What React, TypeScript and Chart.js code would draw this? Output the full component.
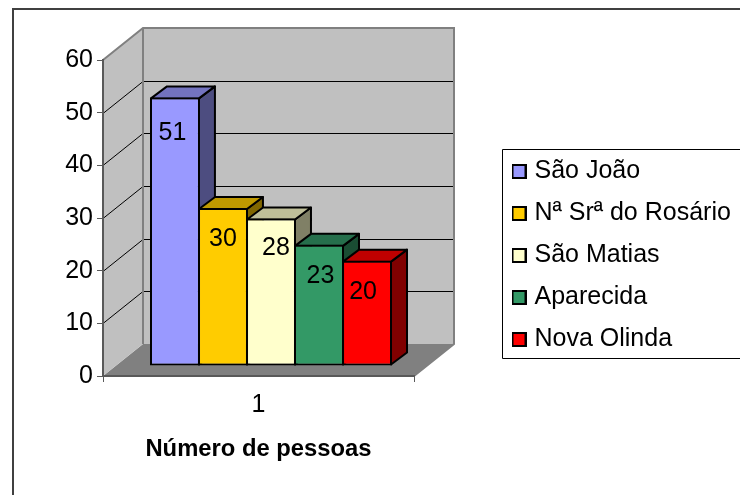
import React, { useEffect, useRef } from "react";
import { Chart, registerables } from "chart.js";

Chart.register(...registerables);

const categories = ["1"];
const seriesNames = ["São João", "Nª Srª do Rosário", "São Matias", "Aparecida", "Nova Olinda"];
const seriesValues = [51, 30, 28, 23, 20];
const frontColors = ["#9999FF", "#FFCC00", "#FFFFCC", "#339966", "#FF0000"];
const topColors = ["#7373BF", "#BF9900", "#BFBF99", "#266F4C", "#BF0000"];
const sideColors = ["#4D4D80", "#806600", "#808066", "#1A4D33", "#800000"];
const labelShifts = [-2.5, 0, 5, 1.5, -4];
const labelDrops = [36, 31, 29.5, 31, 31];
const yTicks = [0, 10, 20, 30, 40, 50, 60];

const FONT = "'Liberation Sans', Arial, sans-serif";
const WALL_DX = 40;
const WALL_DY = -32;
const BAR_DX = 16;
const BAR_DY = -12;
const PLANE_DX = 12.5;
const PLANE_DY = -10;

const makeSwatch = (fill: string) => {
  const c = document.createElement("canvas");
  c.width = 15;
  c.height = 15;
  const g = c.getContext("2d")!;
  g.fillStyle = "#000";
  g.fillRect(0, 0, 15, 15);
  g.fillStyle = fill;
  g.fillRect(2, 2, 11, 11);
  return c;
};

const poly = (ctx: CanvasRenderingContext2D, pts: number[][], fill: string, stroke?: string, lw = 1) => {
  ctx.beginPath();
  pts.forEach(([x, y], i) => (i ? ctx.lineTo(x, y) : ctx.moveTo(x, y)));
  ctx.closePath();
  ctx.fillStyle = fill;
  ctx.fill();
  if (stroke) {
    ctx.strokeStyle = stroke;
    ctx.lineWidth = lw;
    ctx.lineJoin = "round";
    ctx.stroke();
  }
};

const scenePlugin = {
  id: "scene3d",
  beforeDraw(chart: any) {
    const { ctx, chartArea: a, scales } = chart;
    const y = scales.y;
    ctx.save();
    // frame
    ctx.strokeStyle = "#404040";
    ctx.lineWidth = 2;
    ctx.beginPath();
    ctx.moveTo(13, 496);
    ctx.lineTo(13, 9);
    ctx.lineTo(741, 9);
    ctx.stroke();
    // legend frame
    ctx.strokeStyle = "#000";
    ctx.lineWidth = 1;
    ctx.beginPath();
    ctx.moveTo(741, 149.5);
    ctx.lineTo(502.5, 149.5);
    ctx.lineTo(502.5, 358.5);
    ctx.lineTo(741, 358.5);
    ctx.stroke();
    // walls and floor
    const y0 = y.getPixelForValue(0);
    const yTop = y.getPixelForValue(60);
    poly(ctx, [[a.left, y0], [a.left + WALL_DX, y0 + WALL_DY], [a.right + WALL_DX, y0 + WALL_DY], [a.right, y0]], "#808080");
    poly(ctx, [[a.left, y0], [a.left, yTop], [a.left + WALL_DX, yTop + WALL_DY], [a.left + WALL_DX, y0 + WALL_DY]], "#C0C0C0");
    ctx.fillStyle = "#C0C0C0";
    ctx.fillRect(a.left + WALL_DX, yTop + WALL_DY, a.right - a.left, y0 - yTop);
    // grid
    ctx.strokeStyle = "#000";
    ctx.lineWidth = 1;
    yTicks.slice(1, -1).forEach((t) => {
      const py = Math.round(y.getPixelForValue(t)) + 0.5;
      ctx.beginPath();
      ctx.moveTo(a.left, py);
      ctx.lineTo(a.left + WALL_DX, py + WALL_DY);
      ctx.lineTo(a.right + WALL_DX, py + WALL_DY);
      ctx.stroke();
    });
    // wall outline
    ctx.strokeStyle = "#808080";
    ctx.lineWidth = 2;
    ctx.beginPath();
    ctx.moveTo(a.left, yTop);
    ctx.lineTo(a.left + WALL_DX, yTop + WALL_DY);
    ctx.lineTo(a.right + WALL_DX, yTop + WALL_DY);
    ctx.lineTo(a.right + WALL_DX, y0 + WALL_DY);
    ctx.lineTo(a.right, y0);
    ctx.moveTo(a.left + WALL_DX, yTop + WALL_DY);
    ctx.lineTo(a.left + WALL_DX, y0 + WALL_DY);
    ctx.stroke();
    ctx.restore();
  },
  // The bars are painted left to right so each front face covers its left neighbour's side.
  beforeDatasetsDraw(chart: any) {
    const { ctx } = chart;
    ctx.save();
    ctx.translate(PLANE_DX, PLANE_DY);
    chart.data.datasets.forEach((_: any, i: number) => {
      const meta = chart.getDatasetMeta(i);
      const bar = meta.data[0];
      const l = bar.x - bar.width / 2 + 1;
      const r = bar.x + bar.width / 2 - 1;
      const t = bar.y + 1;
      const b = bar.base - 1;
      poly(ctx, [[r, t], [r + BAR_DX, t + BAR_DY], [r + BAR_DX, b + BAR_DY], [r, b]], sideColors[i], "#000", 2);
      poly(ctx, [[l, t], [l + BAR_DX, t + BAR_DY], [r + BAR_DX, t + BAR_DY], [r, t]], topColors[i], "#000", 2);
      meta.controller.draw();
    });
    ctx.restore();
    ctx.save();
    ctx.fillStyle = "#000";
    ctx.font = `25px ${FONT}`;
    ctx.textAlign = "center";
    ctx.textBaseline = "middle";
    chart.data.datasets.forEach((ds: any, i: number) => {
      const bar = chart.getDatasetMeta(i).data[0];
      ctx.fillText(String(ds.data[0]), bar.x + PLANE_DX + labelShifts[i], bar.y + PLANE_DY + labelDrops[i]);
    });
    ctx.restore();
    return false;
  },
  afterLayout(chart: any) {
    const lg = chart.legend;
    if (!lg) return;
    lg.left = 499;
    lg.top = 142;
    lg.width = 241;
    lg.height = 216;
    lg.right = 740;
    lg.bottom = 600;
  },
};

export default function App() {
  const ref = useRef<HTMLCanvasElement>(null);
  useEffect(() => {
    document.body.style.margin = "0";
    const chart = new Chart(ref.current!, {
      type: "bar",
      data: {
        labels: categories,
        datasets: seriesNames.map((name, i) => ({
          label: name,
          data: [seriesValues[i]],
          backgroundColor: frontColors[i],
          borderColor: "#000",
          borderWidth: 2,
          borderSkipped: false,
          categoryPercentage: 0.772,
          barPercentage: 1.04,
        })),
      },
      options: {
        animation: false,
        responsive: false,
        events: [],
        layout: { autoPadding: false, padding: { left: 60, top: 60, right: 326, bottom: 0 } },
        plugins: {
          title: { display: false },
          tooltip: { enabled: false },
          legend: {
            display: true,
            position: "chartArea",
            align: "start",
            labels: {
              color: "#000",
              font: { family: FONT, size: 25 },
              usePointStyle: true,
              pointStyleWidth: 6,
              boxHeight: 15,
              padding: 17,
              generateLabels: () =>
                seriesNames.map((text, i) => ({
                  text,
                  fillStyle: frontColors[i],
                  strokeStyle: "#000",
                  lineWidth: 0,
                  datasetIndex: i,
                  pointStyle: makeSwatch(frontColors[i]),
                  hidden: false,
                })),
            },
          },
        },
        scales: {
          x: {
            afterFit: (s: any) => {
              s.height = 119;
            },
            grid: { drawOnChartArea: false, drawTicks: true, tickLength: 6, tickColor: "#595959", tickWidth: 1, offset: true },
            border: { color: "#595959", width: 2 },
            ticks: { color: "#000", font: { family: FONT, size: 25 }, padding: 8 },
            title: {
              display: true,
              text: "Número de pessoas",
              color: "#000",
              font: { family: FONT, size: 23.8, weight: "bold" },
              padding: { top: 0, bottom: 31.6 },
            },
          },
          y: {
            min: 0,
            max: 60,
            afterFit: (s: any) => {
              s.width = 43;
            },
            afterBuildTicks: (s: any) => {
              s.ticks = yTicks.map((value) => ({ value }));
            },
            grid: { drawOnChartArea: false, drawTicks: true, tickLength: 6, tickColor: "#595959", tickWidth: 1 },
            border: { color: "#595959", width: 2 },
            ticks: { color: "#000", font: { family: FONT, size: 25 }, padding: 4 },
          },
        },
      },
      plugins: [scenePlugin],
    } as any);
    return () => chart.destroy();
  }, []);
  return (
    <div style={{ width: 740, height: 495 }}>
      <canvas ref={ref} width={740} height={495} style={{ display: "block" }} />
    </div>
  );
}
